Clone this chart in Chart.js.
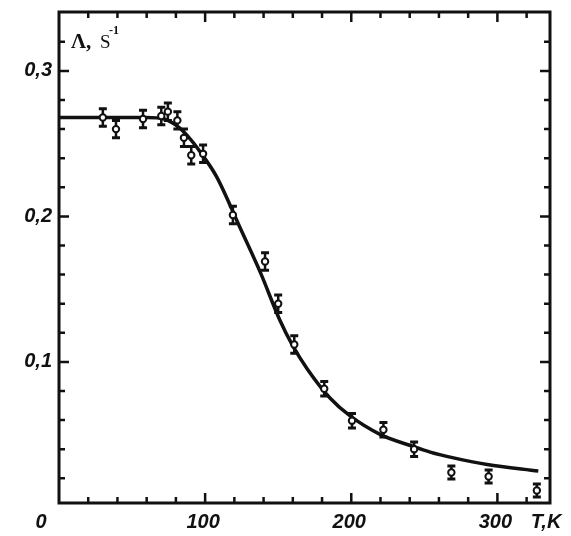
<!DOCTYPE html>
<html>
<head>
<meta charset="utf-8">
<script src="https://cdn.jsdelivr.net/npm/chart.js@4.4.1/dist/chart.umd.min.js"></script>
<style>
  html, body { margin: 0; padding: 0; background: #fff; }
  #wrap { width: 571px; height: 536px; }
</style>
</head>
<body>
<div id="wrap"><canvas id="lambdaChart" width="571" height="536"></canvas></div>
<script>
// Decay rate Λ (s^-1) against temperature T (K): measured points with
// error bars plus the fitted curve.

// measured points
const T_MEAS   = [30, 39, 57.5, 70, 74.5, 81, 85.5, 90.5, 98.6, 119, 141, 150, 161, 181.5, 200.5, 222, 243, 268.5, 294, 327];
const L_MEAS   = [0.268, 0.260, 0.267, 0.269, 0.272, 0.266, 0.254, 0.242, 0.243, 0.201, 0.169, 0.140, 0.112, 0.0815, 0.0596, 0.0534, 0.040, 0.024, 0.0212, 0.0116];
const L_ERR    = [0.006, 0.006, 0.006, 0.006, 0.006, 0.006, 0.006, 0.006, 0.006, 0.006, 0.006, 0.006, 0.006, 0.005, 0.005, 0.005, 0.005, 0.0045, 0.0045, 0.0045];

// fitted curve
const T_FIT = [0, 60, 72, 81, 90, 99, 108, 124, 138, 151, 160, 170, 185.6, 199, 220, 242, 254, 270, 293, 328];
const L_FIT = [0.268, 0.268, 0.267, 0.262, 0.253, 0.241, 0.227, 0.192, 0.161, 0.129, 0.111, 0.095, 0.075, 0.063, 0.050, 0.042, 0.038, 0.034, 0.0295, 0.025];

// axis ticks
const X_MINOR = [20, 40, 60, 80, 100, 120, 140, 160, 180, 200, 220, 240, 260, 280, 300, 320];
const X_MAJOR = [100, 200, 300];
const X_LABELS = ["100", "200", "300"];
const Y_MINOR = [0.02, 0.04, 0.06, 0.08, 0.10, 0.12, 0.14, 0.16, 0.18, 0.20, 0.22, 0.24, 0.26, 0.28, 0.30, 0.32];
const Y_MAJOR = [0.1, 0.2, 0.3];
const Y_LABELS = ["0,1", "0,2", "0,3"];

const X_MIN = 0, X_MAX = 336;
const Y_MIN = 0.003, Y_MAX = 0.3405;

const INK = "#111";
const LABEL_FONT = "italic bold 20px 'Liberation Sans', Arial, sans-serif";

// vertical error bars with caps, drawn under the open circles
const errorBars = {
  id: "errorBars",
  beforeDatasetDraw(chart, args) {
    if (args.index !== 1) return;
    const { ctx, scales: { x, y } } = chart;
    ctx.save();
    ctx.strokeStyle = INK;
    T_MEAS.forEach((t, i) => {
      const px = x.getPixelForValue(t);
      const top = y.getPixelForValue(L_MEAS[i] + L_ERR[i]);
      const bot = y.getPixelForValue(L_MEAS[i] - L_ERR[i]);
      ctx.lineWidth = 2.5;
      ctx.beginPath();
      ctx.moveTo(px, top); ctx.lineTo(px, bot);
      ctx.stroke();
      ctx.lineWidth = 3;
      ctx.beginPath();
      ctx.moveTo(px - 4, top); ctx.lineTo(px + 4, top);
      ctx.moveTo(px - 4, bot); ctx.lineTo(px + 4, bot);
      ctx.stroke();
    });
    ctx.restore();
  }
};

// box frame with inward ticks on all four sides, and the axis text
const frame = {
  id: "frame",
  afterDraw(chart) {
    const { ctx, chartArea: a, scales: { x, y } } = chart;
    ctx.save();
    ctx.strokeStyle = INK;
    ctx.lineWidth = 3;
    ctx.strokeRect(a.left, a.top, a.right - a.left, a.bottom - a.top);

    ctx.lineWidth = 2.5;
    ctx.beginPath();
    X_MINOR.forEach(v => {
      const px = x.getPixelForValue(v);
      const len = X_MAJOR.includes(v) ? 10 : 6;
      ctx.moveTo(px, a.bottom); ctx.lineTo(px, a.bottom - len);
      ctx.moveTo(px, a.top); ctx.lineTo(px, a.top + len);
    });
    Y_MINOR.forEach(v => {
      const py = y.getPixelForValue(v);
      const len = Y_MAJOR.some(m => Math.abs(m - v) < 1e-9) ? 10 : 6;
      ctx.moveTo(a.left, py); ctx.lineTo(a.left + len, py);
      ctx.moveTo(a.right, py); ctx.lineTo(a.right - len, py);
    });
    ctx.stroke();

    ctx.fillStyle = INK;
    ctx.font = LABEL_FONT;
    ctx.textBaseline = "middle";
    ctx.textAlign = "right";
    Y_MAJOR.forEach((v, i) => ctx.fillText(Y_LABELS[i], a.left - 7, y.getPixelForValue(v)));

    ctx.textAlign = "center";
    X_MAJOR.forEach((v, i) => ctx.fillText(X_LABELS[i], x.getPixelForValue(v) - 2, a.bottom + 19));
    ctx.fillText("0", a.left - 18, a.bottom + 19);
    ctx.fillText("T,K", a.right - 4, a.bottom + 19);

    // quantity label in the top-left corner
    ctx.textAlign = "left";
    ctx.textBaseline = "alphabetic";
    ctx.font = "bold 21px 'Liberation Serif', 'Times New Roman', serif";
    ctx.fillText("Λ,", a.left + 12, a.top + 36);
    ctx.font = "19px 'Liberation Serif', 'Times New Roman', serif";
    ctx.fillText("S", a.left + 41, a.top + 36);
    ctx.font = "bold 12px 'Liberation Serif', serif";
    ctx.fillText("-1", a.left + 50, a.top + 22);
    ctx.restore();
  }
};

new Chart(document.getElementById("lambdaChart"), {
  type: "scatter",
  data: {
    datasets: [
      {
        label: "fit",
        data: T_FIT.map((t, i) => ({ x: t, y: L_FIT[i] })),
        showLine: true,
        borderColor: INK,
        borderWidth: 3.5,
        pointRadius: 0,
        cubicInterpolationMode: "monotone",
        order: 2,
      },
      {
        label: "measured",
        data: T_MEAS.map((t, i) => ({ x: t, y: L_MEAS[i] })),
        showLine: false,
        pointStyle: "circle",
        pointRadius: 3.2,
        pointBorderWidth: 2,
        pointBackgroundColor: "#fff",
        pointBorderColor: INK,
        order: 1,
      },
    ],
  },
  options: {
    responsive: false,
    animation: false,
    events: [],
    layout: { padding: { left: 59, right: 21, top: 12, bottom: 33 } },
    plugins: { legend: { display: false }, tooltip: { enabled: false } },
    scales: {
      x: { type: "linear", min: X_MIN, max: X_MAX, display: false },
      y: { type: "linear", min: Y_MIN, max: Y_MAX, display: false },
    },
  },
  plugins: [errorBars, frame],
});
</script>
</body>
</html>
